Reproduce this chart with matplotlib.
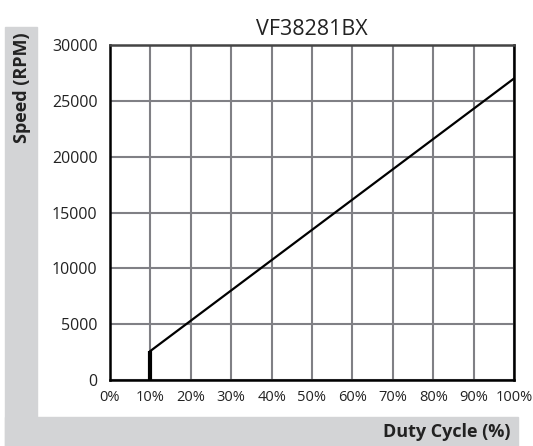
import numpy as np
import matplotlib.pyplot as plt
from matplotlib.patches import Rectangle
plt.rcParams['font.family'] = 'Open Sans'

# duty cycle (%) vs speed (RPM)
duty = [10, 10, 100]
rpm = [0, 2600, 27000]
xticks = list(range(0, 101, 10))
xticklabels = ['%d%%' % v for v in xticks]
yticks = list(range(0, 30001, 5000))

fig = plt.figure(figsize=(5.33, 4.46), dpi=100)
gray = '#d3d4d6'
# L-shaped gray band on the left and bottom
fig.patches.append(Rectangle((5/533, 0), 32/533, 419/446, transform=fig.transFigure,
                             color=gray, zorder=0))
fig.patches.append(Rectangle((5/533, 0), 513/533, 29/446, transform=fig.transFigure,
                             color=gray, zorder=0))

ax = fig.add_axes([110/533, 66/446, 404/533, 335/446])
ax.set_xlim(0, 100)
ax.set_ylim(0, 30000)
ax.set_xticks(xticks)
ax.set_xticklabels(xticklabels, fontsize=10.5, color='#222222')
ax.set_yticks(yticks)
ax.set_yticklabels([str(v) for v in yticks], fontsize=11.5, color='#222222')
ax.tick_params(length=0)
ax.tick_params(axis='x', pad=7)
ax.tick_params(axis='y', pad=9)
ax.grid(True, color='#808085', lw=1.5)
ax.set_axisbelow(True)
for s in ['left', 'bottom', 'right']:
    ax.spines[s].set_linewidth(1.8)
    ax.spines[s].set_color('black')
ax.spines['top'].set_linewidth(1.8)
ax.spines['top'].set_color('#444444')

ax.plot(duty[:2], rpm[:2], color='black', lw=3, solid_capstyle='butt')
ax.plot(duty[1:], rpm[1:], color='black', lw=1.6)

ax.set_title('VF38281BX', fontsize=15.5, color='#222222', pad=7)
fig.text(22/533, 1 - 32/446, 'Speed (RPM)', rotation=90, ha='center', va='top',
         fontsize=13, fontweight='bold', color='#222222')
fig.text(511/533, 14/446, 'Duty Cycle (%)', ha='right', va='center',
         fontsize=13, fontweight='bold', color='#222222')

fig.savefig('out.png', dpi=100)
